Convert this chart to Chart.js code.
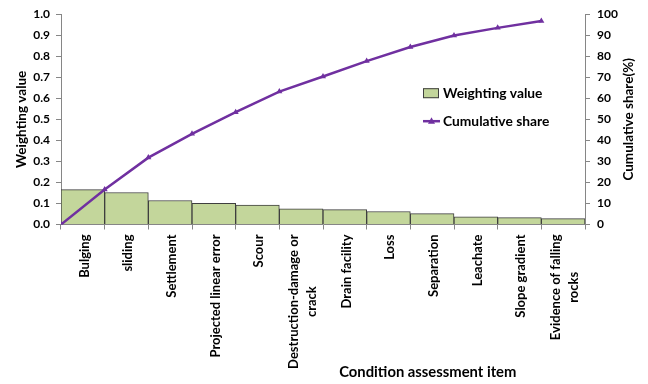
<!DOCTYPE html>
<html>
<head>
<meta charset="utf-8">
<script src="https://cdn.jsdelivr.net/npm/chart.js@4.4.1/dist/chart.umd.min.js"></script>
<style>
  html, body { margin: 0; padding: 0; background: #ffffff; }
  #wrap { width: 648px; height: 384px; }
</style>
</head>
<body>
<div id="wrap"><canvas id="chart" width="648" height="384"></canvas></div>
<script>
// Condition assessment items (multi-line labels are arrays of lines)
const categories = [
  ["Bulging"], ["sliding"], ["Settlement"], ["Projected linear error"], ["Scour"],
  ["Destruction-damage or", "crack"], ["Drain facility"], ["Loss"], ["Separation"],
  ["Leachate"], ["Slope gradient"], ["Evidence of falling", "rocks"]
];
// Weighting value of each item (left axis)
const weightingValue = [0.166, 0.152, 0.114, 0.101, 0.092, 0.074, 0.071, 0.062, 0.052, 0.036, 0.033, 0.028];
// Cumulative share (%) at the start of each item (right axis)
const cumulativeShare = [0, 16.6, 31.8, 43.1, 53.4, 63.2, 70.4, 77.7, 84.4, 89.9, 93.5, 96.8];
// Axis tick settings
const leftTickStep = 0.1;
const rightTickStep = 10;

const FONT = "Lato, 'Open Sans', sans-serif";
const AXIS_GRAY = "#868686";
const BAR_FILL = "#C3D69B";
const BAR_EDGE = "#3F3F3F";
const LINE_PURPLE = "#7030A0";

// Draws rotated category labels, axis titles and the in-plot legend
const decorations = {
  id: "decorations",
  afterDraw(chart) {
    const ctx = chart.ctx;
    const area = chart.chartArea;
    const xs = chart.scales.x;

    ctx.save();
    ctx.fillStyle = "#000";

    // Category labels, read bottom-to-top, lines centred on each other
    ctx.font = "bold 13px " + FONT;
    const lineGap = 18;
    categories.forEach((lines, i) => {
      const px = xs.getPixelForValue(i) + 1.5;
      const maxW = Math.max(...lines.map(l => ctx.measureText(l).width));
      const cy = area.bottom + 10 + maxW / 2;
      lines.forEach((line, j) => {
        const lx = px + (j - (lines.length - 1) / 2) * lineGap;
        ctx.save();
        ctx.translate(lx, cy);
        ctx.rotate(-Math.PI / 2);
        ctx.textAlign = "center";
        ctx.textBaseline = "middle";
        ctx.fillText(line, 0, 0);
        ctx.restore();
      });
    });

    // Axis titles
    ctx.font = "bold 13.5px " + FONT;
    ctx.textAlign = "center";
    ctx.textBaseline = "middle";
    const midY = (area.top + area.bottom) / 2;

    ctx.save();
    ctx.translate(22, midY);
    ctx.rotate(-Math.PI / 2);
    ctx.fillText("Weighting value", 0, 0);
    ctx.restore();

    ctx.save();
    ctx.translate(chart.width - 19.5, midY);
    ctx.rotate(-Math.PI / 2);
    ctx.fillText("Cumulative share(%)", 0, 0);
    ctx.restore();

    ctx.font = "bold 14.8px " + FONT;
    ctx.fillText("Condition assessment item", area.left + area.width * 0.7, chart.height - 11.5);

    // Legend inside the plot
    const lx = area.left + 362;
    const ly1 = area.top + 79;
    const ly2 = area.top + 107;
    ctx.fillStyle = BAR_FILL;
    ctx.fillRect(lx, ly1 - 5, 16, 10);
    ctx.strokeStyle = BAR_EDGE;
    ctx.lineWidth = 1;
    ctx.strokeRect(lx + 0.5, ly1 - 4.5, 15, 9);

    ctx.strokeStyle = LINE_PURPLE;
    ctx.lineWidth = 2.5;
    ctx.beginPath();
    ctx.moveTo(lx, ly2);
    ctx.lineTo(lx + 17, ly2);
    ctx.stroke();
    ctx.fillStyle = LINE_PURPLE;
    ctx.beginPath();
    ctx.moveTo(lx + 8.5, ly2 - 4);
    ctx.lineTo(lx + 12, ly2 + 2.5);
    ctx.lineTo(lx + 5, ly2 + 2.5);
    ctx.closePath();
    ctx.fill();

    ctx.fillStyle = "#000";
    ctx.textAlign = "left";
    ctx.font = "bold 13.8px " + FONT;
    ctx.fillText("Weighting value", lx + 20, ly1);
    ctx.fillText("Cumulative share", lx + 20, ly2);

    ctx.restore();
  }
};

new Chart(document.getElementById("chart"), {
  data: {
    labels: categories,
    datasets: [
      {
        type: "line",
        label: "Cumulative share",
        data: cumulativeShare.map((v, i) => ({ x: i, y: v })),
        xAxisID: "xl",
        yAxisID: "y2",
        borderColor: LINE_PURPLE,
        backgroundColor: LINE_PURPLE,
        borderWidth: 2.5,
        pointStyle: "triangle",
        pointRadius: 3.5,
        pointBackgroundColor: LINE_PURPLE,
        pointBorderColor: LINE_PURPLE,
        pointBorderWidth: 0,
        tension: 0,
        fill: false
      },
      {
        type: "bar",
        label: "Weighting value",
        data: weightingValue,
        xAxisID: "x",
        yAxisID: "y",
        backgroundColor: BAR_FILL,
        borderColor: BAR_EDGE,
        borderWidth: 1,
        grouped: false,
        barPercentage: 1,
        categoryPercentage: 1
      }
    ]
  },
  options: {
    responsive: false,
    animation: false,
    devicePixelRatio: 1,
    layout: { padding: { top: 13, left: 0, right: 0, bottom: 0 } },
    plugins: { legend: { display: false }, tooltip: { enabled: false } },
    scales: {
      x: {
        type: "category",
        position: "bottom",
        offset: true,
        grid: { offset: true, drawOnChartArea: false, drawTicks: true, tickLength: 5, color: AXIS_GRAY },
        border: { color: AXIS_GRAY, width: 1 },
        ticks: { display: false },
        afterFit(s) { s.height = 159.5; }
      },
      xl: {
        type: "linear",
        position: "bottom",
        min: 0,
        max: 12,
        display: false
      },
      y: {
        position: "left",
        min: 0,
        max: 1,
        grid: { drawOnChartArea: false, tickLength: 5, color: AXIS_GRAY },
        border: { color: AXIS_GRAY, width: 1 },
        ticks: {
          stepSize: leftTickStep,
          padding: 6,
          color: "#000",
          font: { family: FONT, size: 12, weight: "bold" },
          callback: v => Number(v).toFixed(1)
        },
        afterFit(s) { s.width = 61; }
      },
      y2: {
        position: "right",
        min: 0,
        max: 100,
        grid: { drawOnChartArea: false, tickLength: 5, color: AXIS_GRAY },
        border: { color: AXIS_GRAY, width: 1 },
        ticks: {
          stepSize: rightTickStep,
          padding: 7,
          color: "#000",
          font: { family: FONT, size: 12, weight: "bold" }
        },
        afterFit(s) { s.width = 63; }
      }
    }
  },
  plugins: [decorations]
});
</script>
</body>
</html>
